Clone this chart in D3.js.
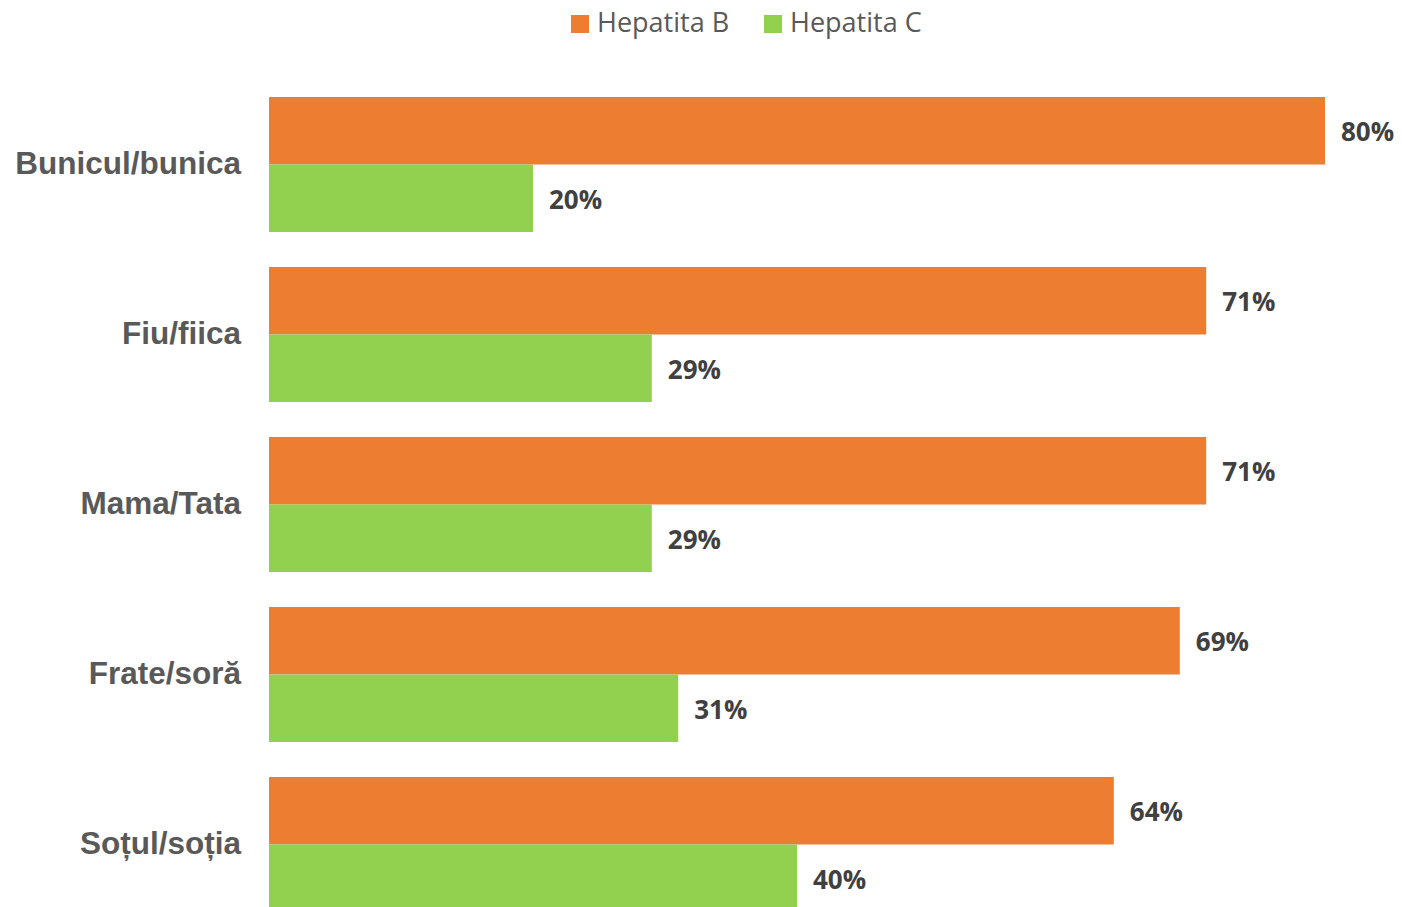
<!DOCTYPE html>
<html><head><meta charset="utf-8">
<script src="https://cdn.jsdelivr.net/npm/d3@7"></script>
<style>html,body{margin:0;padding:0;background:#fff;overflow:hidden}</style>
</head><body>
<svg id="c" width="1402" height="907"></svg>
<script>
const categories = ["Bunicul/bunica","Fiu/fiica","Mama/Tata","Frate/soră","Soțul/soția"];
const seriesNames = ["Hepatita B","Hepatita C"];
const hepB = [80,71,71,69,64];
const hepC = [20,29,29,31,40];
const colors = ["#ED7D31","#92D050"];

const svg = d3.select("#c");
const x = d3.scaleLinear().domain([0,80]).range([269,1325]);
const y = d3.scaleBand().domain(categories).range([79.5,929.5]).paddingInner(35/170).paddingOuter(17.5/170);
const sub = d3.scaleBand().domain(seriesNames).range([0,y.bandwidth()]);

const data = categories.map((c,i)=>({cat:c, vals:[hepB[i],hepC[i]]}));
const g = svg.selectAll("g.cat").data(data).join("g").attr("transform",d=>`translate(0,${y(d.cat)})`);
g.selectAll("rect").data(d=>d.vals.map((v,j)=>({v,s:seriesNames[j],j}))).join("rect")
  .attr("x",x(0)).attr("y",d=>sub(d.s)).attr("height",sub.bandwidth())
  .attr("width",d=>x(d.v)-x(0)).attr("fill",d=>colors[d.j]);
g.selectAll("text.val").data(d=>d.vals.map((v,j)=>({v,s:seriesNames[j],j}))).join("text")
  .attr("class","val").attr("x",d=>x(d.v)+16).attr("y",d=>sub(d.s)+sub.bandwidth()/2+1.5)
  .attr("dy","0.35em").attr("font-family","'Open Sans', sans-serif").attr("font-weight","bold")
  .attr("font-size",26).attr("fill","#404040").text(d=>d.v+"%");

svg.selectAll("text.cat").data(categories).join("text").attr("class","cat")
  .attr("x",241).attr("y",d=>y(d)+y.bandwidth()/2-1.5).attr("dy","0.35em").attr("text-anchor","end")
  .attr("font-family","Liberation Sans, Arial, sans-serif").attr("font-weight","bold")
  .attr("font-size",31.5).attr("fill","#595959").text(d=>d);

// legend
const legX = [571, 764];
const lg = svg.selectAll("g.leg").data(seriesNames).join("g").attr("class","leg")
  .attr("transform",(d,i)=>`translate(${legX[i]},15)`);
lg.append("rect").attr("width",18).attr("height",18).attr("fill",(d,i)=>colors[i]);
lg.append("text").attr("x",26).attr("y",8).attr("dy","0.35em")
  .attr("font-family","'Open Sans', sans-serif").attr("font-size",27).attr("fill","#595959").text(d=>d);
</script>
</body></html>
